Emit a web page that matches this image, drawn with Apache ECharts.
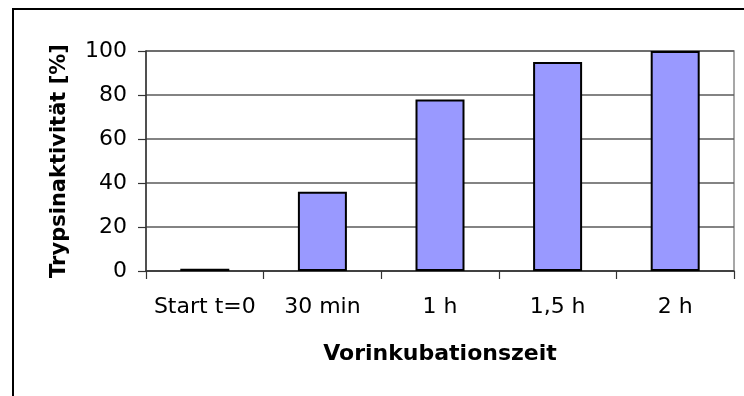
<!DOCTYPE html>
<html>
<head>
<meta charset="utf-8">
<script src="https://cdn.jsdelivr.net/npm/echarts@6/dist/echarts.min.js"></script>
<style>
  html, body { margin: 0; padding: 0; background: #fff; }
  #chart { width: 744px; height: 396px; }
</style>
</head>
<body>
<div id="chart"></div>
<script>
// Trypsin activity after different pre-incubation times
const categories = ['Start t=0', '30 min', '1 h', '1,5 h', '2 h'];
const activity = [1, 36, 78, 95, 100];
const yTicks = [0, 20, 40, 60, 80, 100];

const FONT = '"DejaVu Sans", sans-serif';

const chart = echarts.init(document.getElementById('chart'), null, { renderer: 'canvas' });

chart.setOption({
  animation: false,
  backgroundColor: '#fff',
  graphic: [{
    type: 'rect',
    shape: { x: 13, y: 9, width: 800, height: 500 },
    style: { fill: 'none', stroke: '#000', lineWidth: 2 },
    silent: true
  }],
  grid: {
    left: 146, right: 10, top: 51, bottom: 125,
    show: true, borderColor: '#8a8a8a', borderWidth: 1.5,
    backgroundColor: 'transparent'
  },
  xAxis: {
    type: 'category',
    data: categories,
    boundaryGap: true,
    name: 'Vorinkubationszeit',
    nameLocation: 'middle',
    nameGap: 72,
    nameTextStyle: { fontFamily: FONT, fontWeight: 'bold', fontSize: 22, color: '#000' },
    axisLine: { lineStyle: { color: '#333', width: 1.5 } },
    axisTick: { show: true, alignWithLabel: false, interval: 0, length: 8, lineStyle: { color: '#333', width: 1.2 } },
    axisLabel: { fontFamily: FONT, fontSize: 22, color: '#000', margin: 25, interval: 0 },
    splitLine: { show: false }
  },
  yAxis: {
    type: 'value',
    min: yTicks[0],
    max: yTicks[yTicks.length - 1],
    interval: yTicks[1] - yTicks[0],
    name: 'Trypsinaktivität [%]',
    nameLocation: 'middle',
    nameGap: 76,
    nameTextStyle: { fontFamily: FONT, fontWeight: 'bold', fontSize: 21, color: '#000' },
    axisLine: { show: true, lineStyle: { color: '#333', width: 1.5 } },
    axisTick: { show: true, length: 8, lineStyle: { color: '#333', width: 1.2 } },
    axisLabel: { fontFamily: FONT, fontSize: 22, color: '#000', margin: 19 },
    splitLine: { show: true, lineStyle: { color: '#5a5a5a', width: 1.5 } }
  },
  series: [{
    type: 'bar',
    data: activity,
    barWidth: 49,
    itemStyle: { color: '#9999ff', borderColor: '#000', borderWidth: 2 }
  }]
});
</script>
</body>
</html>
